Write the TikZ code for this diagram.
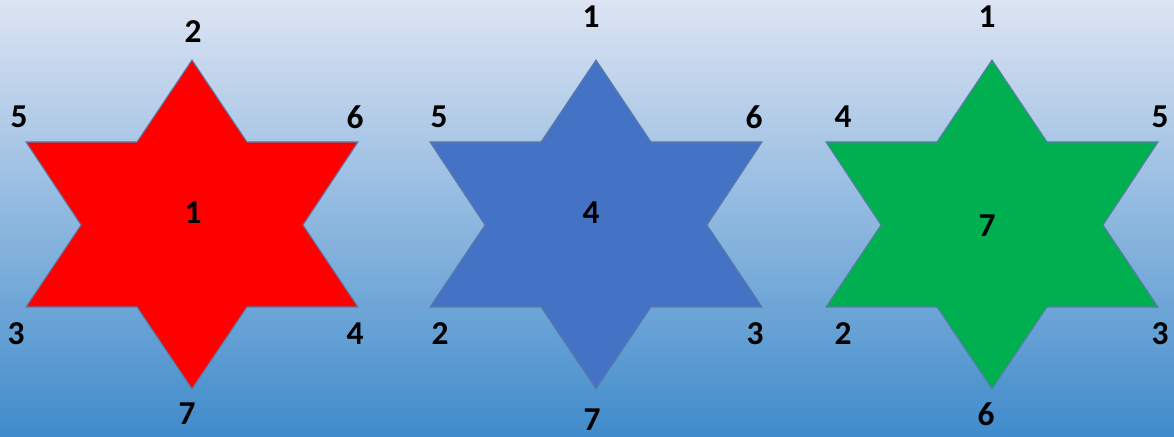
\documentclass[tikz,border=0pt]{standalone}
\usepackage{fontspec}
\setmainfont{Carlito}
\usepackage{xcolor}
\definecolor{skytop}{HTML}{DDE4F3}
\definecolor{skymid}{HTML}{B3C6E6}
\definecolor{skybot}{HTML}{3F8BCB}
\definecolor{starline}{HTML}{5B7BA8}
\definecolor{starred}{HTML}{FF0000}
\definecolor{starblue}{HTML}{4472C4}
\definecolor{stargreen}{HTML}{00B050}
\tikzset{
  hexstar/.style={draw=starline,line width=0.6pt,line join=miter},
  numlabel/.style={font=\fontsize{19}{21}\selectfont\bfseries,text=black,inner sep=0pt},
  pics/hexagram/.style={code={
    \path[hexstar,fill=#1] (0,-165) -- (55,-83) -- (166,-83) -- (111,0)
      -- (166,82) -- (55,82) -- (0,164) -- (-55,82) -- (-166,82)
      -- (-111,0) -- (-166,-83) -- (-55,-83) -- cycle;
  }}
}

\begin{document}
\begin{tikzpicture}[x=0.2mm,y=-0.2mm]
    \useasboundingbox (0,0) rectangle (1174,437);
    \shade[top color=skytop,middle color=skymid,bottom color=skybot]
      (0,0) rectangle (1174,437);

    % red star
    \pic at (192,225) {hexagram=starred};
    \node[numlabel] (rc) at (193,213) {1};
    \node[numlabel] (rt) at (193,32) {2};
    \node[numlabel] (rul) at (19,117) {5};
    \node[numlabel] (rur) at (355,117) {6};
    \node[numlabel] (rll) at (16,334) {3};
    \node[numlabel] (rlr) at (355,334) {4};
    \node[numlabel] (rb) at (187,414) {7};

    % blue star
    \pic at (596,225) {hexagram=starblue};
    \node[numlabel] (bc) at (591,213) {4};
    \node[numlabel] (bt) at (591,17) {1};
    \node[numlabel] (bul) at (439,117) {5};
    \node[numlabel] (bur) at (754,117) {6};
    \node[numlabel] (bll) at (440,334) {2};
    \node[numlabel] (blr) at (755,334) {3};
    \node[numlabel] (bb) at (592,420) {7};

    % green star
    \pic at (992,225) {hexagram=stargreen};
    \node[numlabel] (gc) at (987,226) {7};
    \node[numlabel] (gt) at (987,17) {1};
    \node[numlabel] (gul) at (843,117) {4};
    \node[numlabel] (gur) at (1160,117) {5};
    \node[numlabel] (gll) at (843,334) {2};
    \node[numlabel] (glr) at (1160,334) {3};
    \node[numlabel] (gb) at (986,414) {6};
\end{tikzpicture}
\end{document}
